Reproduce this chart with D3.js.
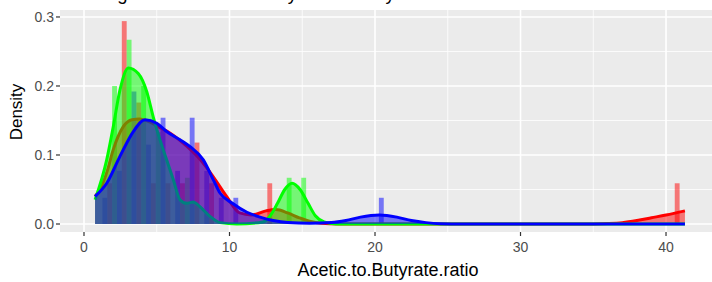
<!DOCTYPE html>
<html>
<head>
<meta charset="utf-8">
<script src="https://cdn.jsdelivr.net/npm/d3@7.9.0/dist/d3.min.js"></script>
<style>
  body { margin: 0; background: #fff; }
  svg { display: block; font-family: "Liberation Sans", Arial, sans-serif; }
</style>
</head>
<body>
<svg id="chart" width="712" height="282"></svg>
<script>
// groups and colours
const groups = ['red', 'green', 'blue'];
const groupColors = ['#ff0000', '#00ff00', '#0000ff'];

// histogram (density scale), bins of width 1, dodged per group
const binWidth = 1.0;
const redBins = [1.6, 2.6, 3.6, 4.6, 5.6, 6.6, 7.6, 8.6, 12.6, 40.6];
const redHist = [0.059, 0.294, 0.176, 0.059, 0.059, 0.059, 0.118, 0.059, 0.059, 0.059];
const greenBins = [1.6, 2.6, 3.6, 4.6, 6.6, 13.6, 14.6];
const greenHist = [0.2, 0.267, 0.2, 0.133, 0.067, 0.067, 0.067];
const blueBins = [0.6, 1.6, 2.6, 3.6, 4.6, 5.6, 6.6, 7.6, 8.6, 9.6, 19.6];
const blueHist = [0.038, 0.077, 0.192, 0.115, 0.154, 0.077, 0.154, 0.077, 0.038, 0.038, 0.038];

// density curves
const redDensX = [0.76, 1.1, 1.6, 2.0, 2.7, 3.3, 3.8, 4.5, 5.2, 5.9, 7.1, 8.0, 8.9, 9.8, 10.7, 11.5, 12.5, 13.2, 14.0, 14.8, 15.5, 16.3, 17.5, 34, 36, 37, 38, 39, 40, 41.3];
const redDensY = [0.04, 0.05, 0.077, 0.107, 0.141, 0.151, 0.152, 0.148, 0.14, 0.132, 0.112, 0.093, 0.068, 0.04, 0.016, 0.013, 0.019, 0.021, 0.016, 0.009, 0.004, 0.001, 0, 0, 0.0008, 0.002, 0.005, 0.009, 0.013, 0.019];
const greenDensX = [0.76, 1.56, 2.01, 2.47, 3.05, 3.73, 4.31, 4.76, 5.22, 5.68, 6.14, 6.6, 7.06, 7.51, 7.97, 8.66, 9.35, 10.5, 12.3, 12.8, 13.3, 13.8, 14.3, 14.85, 15.4, 15.9, 16.5, 17.3, 41.3];
const greenDensY = [0.035, 0.093, 0.141, 0.194, 0.226, 0.218, 0.192, 0.155, 0.122, 0.093, 0.064, 0.035, 0.03, 0.032, 0.025, 0.011, 0.002, 0, 0.003, 0.012, 0.03, 0.05, 0.059, 0.05, 0.03, 0.012, 0.003, 0, 0];
const blueDensX = [0.76, 1.56, 2.47, 3.39, 4.19, 5.0, 5.68, 6.6, 7.29, 8.2, 8.89, 9.35, 10.2, 11.2, 12.1, 13, 14, 15.5, 17, 18, 19, 20.3, 21.5, 22.5, 23.5, 24.5, 26, 41.3];
const blueDensY = [0.04, 0.059, 0.098, 0.134, 0.151, 0.146, 0.134, 0.122, 0.112, 0.093, 0.064, 0.045, 0.03, 0.017, 0.01, 0.005, 0.002, 0.001, 0.002, 0.005, 0.01, 0.013, 0.01, 0.005, 0.002, 0.0005, 0, 0];

// axes
const xTicks = [0, 10, 20, 30, 40];
const xMinor = [5, 15, 25, 35];
const yTicks = [0, 0.1, 0.2, 0.3];
const yMinor = [0.05, 0.15, 0.25];
const titleText = 'Histogram of Acetic.to.Butyrate.ratio by Treatment';
const xTitle = 'Acetic.to.Butyrate.ratio';
const yTitle = 'Density';

const panel = { left: 60, right: 712, top: 10, bottom: 232 };
const svg = d3.select('#chart');

const x = d3.scaleLinear().domain([-1.649, 43.16]).range([panel.left, panel.right]);
const y = d3.scaleLinear().domain([-0.01159, 0.3101]).range([panel.bottom, panel.top]);
const dodge = d3.scaleBand().domain(groups).range([0, binWidth]);
const color = d3.scaleOrdinal().domain(groups).range(groupColors);

// background + grid
svg.append('rect')
    .attr('x', panel.left).attr('y', panel.top)
    .attr('width', panel.right - panel.left).attr('height', panel.bottom - panel.top)
    .attr('fill', '#ebebeb');

svg.append('clipPath').attr('id', 'clip')
    .append('rect')
    .attr('x', panel.left).attr('y', panel.top)
    .attr('width', panel.right - panel.left).attr('height', panel.bottom - panel.top);

const grid = svg.append('g');
yMinor.forEach(v => grid.append('line')
    .attr('x1', panel.left).attr('x2', panel.right).attr('y1', y(v)).attr('y2', y(v))
    .attr('stroke', '#fff').attr('stroke-width', 0.8));
xMinor.forEach(v => grid.append('line')
    .attr('y1', panel.top).attr('y2', panel.bottom).attr('x1', x(v)).attr('x2', x(v))
    .attr('stroke', '#fff').attr('stroke-width', 0.8));
yTicks.forEach(v => grid.append('line')
    .attr('x1', panel.left).attr('x2', panel.right).attr('y1', y(v)).attr('y2', y(v))
    .attr('stroke', '#fff').attr('stroke-width', 1.6));
xTicks.forEach(v => grid.append('line')
    .attr('y1', panel.top).attr('y2', panel.bottom).attr('x1', x(v)).attr('x2', x(v))
    .attr('stroke', '#fff').attr('stroke-width', 1.6));

const plot = svg.append('g').attr('clip-path', 'url(#clip)');

// histogram bars
const histData = [
    { g: 'red', bins: redBins, vals: redHist },
    { g: 'green', bins: greenBins, vals: greenHist },
    { g: 'blue', bins: blueBins, vals: blueHist },
];
histData.forEach(h => {
    h.bins.forEach((b, i) => {
        const x0 = x(b + dodge(h.g));
        const x1 = x(b + dodge(h.g) + dodge.bandwidth());
        plot.append('rect')
            .attr('x', x0).attr('width', x1 - x0)
            .attr('y', y(h.vals[i])).attr('height', y(0) - y(h.vals[i]))
            .attr('fill', color(h.g)).attr('fill-opacity', 0.5);
    });
});

// density fills + lines
const densData = [
    { g: 'red', xs: redDensX, ys: redDensY },
    { g: 'green', xs: greenDensX, ys: greenDensY },
    { g: 'blue', xs: blueDensX, ys: blueDensY },
];
const area = d3.area()
    .x(d => x(d[0])).y0(y(0)).y1(d => y(d[1]))
    .curve(d3.curveMonotoneX);
const line = d3.line()
    .x(d => x(d[0])).y(d => y(d[1]))
    .curve(d3.curveMonotoneX);

densData.forEach(dd => {
    const pts = dd.xs.map((v, i) => [v, dd.ys[i]]);
    plot.append('path').attr('d', area(pts))
        .attr('fill', color(dd.g)).attr('fill-opacity', 0.5);
    plot.append('path').attr('d', line(pts))
        .attr('fill', 'none').attr('stroke', color(dd.g))
        .attr('stroke-width', 3).attr('stroke-linejoin', 'round');
});

// axes ticks and labels
const axisG = svg.append('g');
yTicks.forEach(v => {
    axisG.append('line')
        .attr('x1', panel.left - 4).attr('x2', panel.left).attr('y1', y(v)).attr('y2', y(v))
        .attr('stroke', '#333').attr('stroke-width', 1.2);
    axisG.append('text')
        .attr('x', panel.left - 6).attr('y', y(v)).attr('dy', '0.35em')
        .attr('text-anchor', 'end').attr('font-size', 14).attr('fill', '#4d4d4d')
        .text(d3.format('.1f')(v));
});
xTicks.forEach(v => {
    axisG.append('line')
        .attr('x1', x(v)).attr('x2', x(v)).attr('y1', panel.bottom).attr('y2', panel.bottom + 4)
        .attr('stroke', '#333').attr('stroke-width', 1.2);
    axisG.append('text')
        .attr('x', x(v)).attr('y', panel.bottom + 20)
        .attr('text-anchor', 'middle').attr('font-size', 14).attr('fill', '#4d4d4d')
        .text(v);
});

svg.append('text')
    .attr('x', (panel.left + panel.right) / 2 + 2).attr('y', 276)
    .attr('text-anchor', 'middle').attr('font-size', 18).attr('fill', '#000')
    .text(xTitle);

svg.append('text')
    .attr('transform', `translate(22, 112) rotate(-90)`)
    .attr('text-anchor', 'middle').attr('font-size', 17).attr('fill', '#000')
    .text(yTitle);

// title, mostly cut off at the top edge (as in the reference)
svg.append('text')
    .attr('x', 75).attr('y', -0.5)
    .attr('font-size', 18.5).attr('fill', '#000')
    .text(titleText);
</script>
</body>
</html>
